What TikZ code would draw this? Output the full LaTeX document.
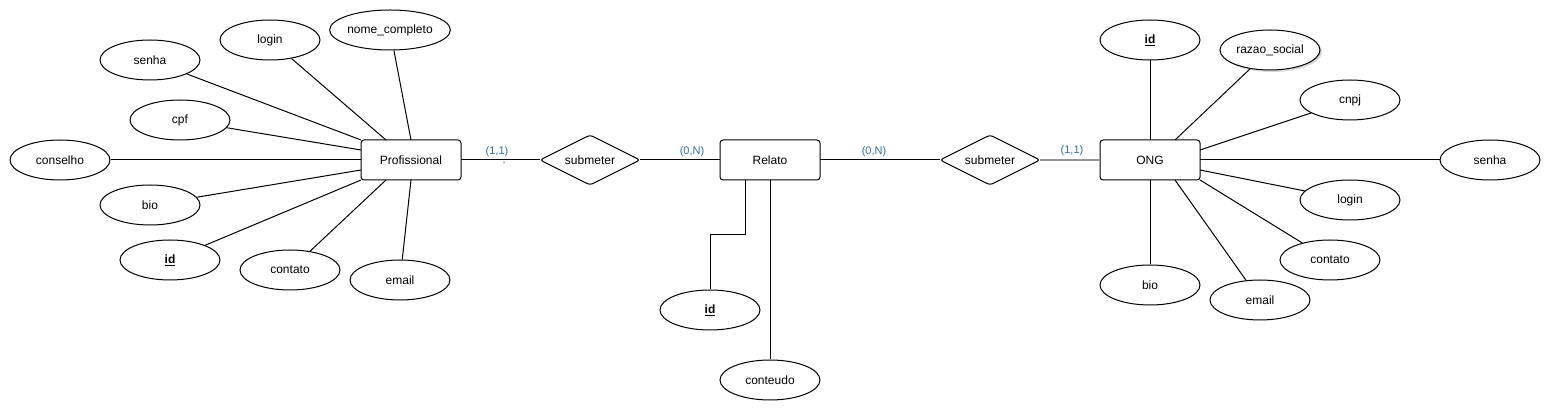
\documentclass[tikz,border=0pt]{standalone}
\usepackage{fontspec}
\setmainfont{Liberation Sans}
\usetikzlibrary{positioning, calc, shapes.geometric, shadows}
\definecolor{cardblue}{RGB}{46,112,160}
\begin{document}
\begin{tikzpicture}[
  x=1pt, y=-1pt,
  ent/.style={rectangle, rounded corners=3pt, draw=black, line width=1pt,
              minimum width=100pt, minimum height=40pt, inner sep=0pt, outer sep=0pt,
              font=\fontsize{12}{14}\selectfont},
  attr/.style={ellipse, draw=black, fill=white, line width=1pt, minimum width=100pt,
               minimum height=40pt, inner sep=0pt, font=\fontsize{12}{14}\selectfont},
  rel/.style={diamond, aspect=2, rounded corners=3pt, draw=black, line width=1pt,
              minimum width=100pt, minimum height=50pt, inner sep=0pt, outer sep=0pt,
              font=\fontsize{12}{14}\selectfont},
  conn/.style={line width=1pt, draw=black},
  card/.style={font=\fontsize{11}{13}\selectfont, text=cardblue, inner sep=0pt}
]
  \useasboundingbox[fill=white] (0,0) rectangle (1551,411);

  % entities and relations
  \node[ent] (prof) at (411,160) {Profissional};
  \node[rel, right=79pt of prof] (subA) {submeter};
  \node[ent, right=80pt of subA] (relato) {Relato};
  \node[rel, right=120pt of relato] (subB) {submeter};
  \node[ent, right=60pt of subB] (ong) {ONG};

  % Profissional attributes
  \node[attr] (pNome)     at (390,30)  {nome\_completo};
  \node[attr] (pLogin)    at (270,40)  {login};
  \node[attr] (pSenha)    at (150,60)  {senha};
  \node[attr] (pCpf)      at (180,120) {cpf};
  \node[attr] (pConselho) at (60,160)  {conselho};
  \node[attr] (pBio)      at (150,205) {bio};
  \node[attr] (pId)       at (170,260) {\textbf{\underline{id}}};
  \node[attr] (pContato)  at (290,270) {contato};
  \node[attr] (pEmail)    at (400,280) {email};

  % Relato attributes
  \node[attr] (rId)       at (710,310) {\textbf{\underline{id}}};
  \node[attr] (rConteudo) at (770,380) {conteudo};

  % ONG attributes
  \node[attr] (oId)       at (1150,40)  {\textbf{\underline{id}}};
  \node[attr, drop shadow={shadow xshift=2pt, shadow yshift=-2pt, opacity=0.3}]
              (oRazao)    at (1270,50)  {razao\_social};
  \node[attr] (oCnpj)     at (1350,100) {cnpj};
  \node[attr] (oSenha)    at (1490,160) {senha};
  \node[attr] (oLogin)    at (1350,200) {login};
  \node[attr] (oContato)  at (1330,260) {contato};
  \node[attr] (oEmail)    at (1260,300) {email};
  \node[attr] (oBio)      at (1150,285) {bio};

  % cardinalities
  \node[card] (cA)  at (497,152) {(1,1)};
  \node[card] (cA2) at (504,166) {'};
  \node[card] (cB)  at (692,152) {(0,N)};
  \node[card] (cC)  at (874,152) {(0,N)};
  \node[card] (cD)  at (1072,151) {(1,1)};

  % relationship lines
  \draw[conn] (prof) -- (subA);
  \draw[conn] (subA) -- (relato);
  \draw[conn] (relato) -- (subB);
  \draw[conn, draw=gray!85, line width=1.5pt] (subB) -- (ong);

  % Profissional links
  \draw[conn] (pSenha) -- (prof.north west);
  \draw[conn] (pLogin) -- ($(prof.north west)!0.25!(prof.north east)$);
  \draw[conn] (pNome) -- (prof.north);
  \draw[conn] (pCpf) -- ($(prof.north west)!0.25!(prof.south west)$);
  \draw[conn] (pConselho) -- (prof.west);
  \draw[conn] (pBio) -- ($(prof.north west)!0.75!(prof.south west)$);
  \draw[conn] (pId) -- (prof.south west);
  \draw[conn] (pContato) -- ($(prof.south west)!0.25!(prof.south east)$);
  \draw[conn] (pEmail) -- (prof.south);

  % Relato links
  \draw[conn] ($(relato.south west)!0.25!(relato.south east)$) -- ++(0,55) -| (rId.north);
  \draw[conn] (relato.south) -- (rConteudo.north);

  % ONG links
  \draw[conn] (oId) -- (ong.north);
  \draw[conn] (oRazao) -- ($(ong.north west)!0.75!(ong.north east)$);
  \draw[conn] (oCnpj) -- ($(ong.north east)!0.25!(ong.south east)$);
  \draw[conn] (oSenha) -- (ong.east);
  \draw[conn] (oLogin) -- ($(ong.north east)!0.75!(ong.south east)$);
  \draw[conn] (oContato) -- (ong.south east);
  \draw[conn] (oEmail) -- ($(ong.south west)!0.75!(ong.south east)$);
  \draw[conn] (oBio) -- (ong.south);
\end{tikzpicture}
\end{document}
